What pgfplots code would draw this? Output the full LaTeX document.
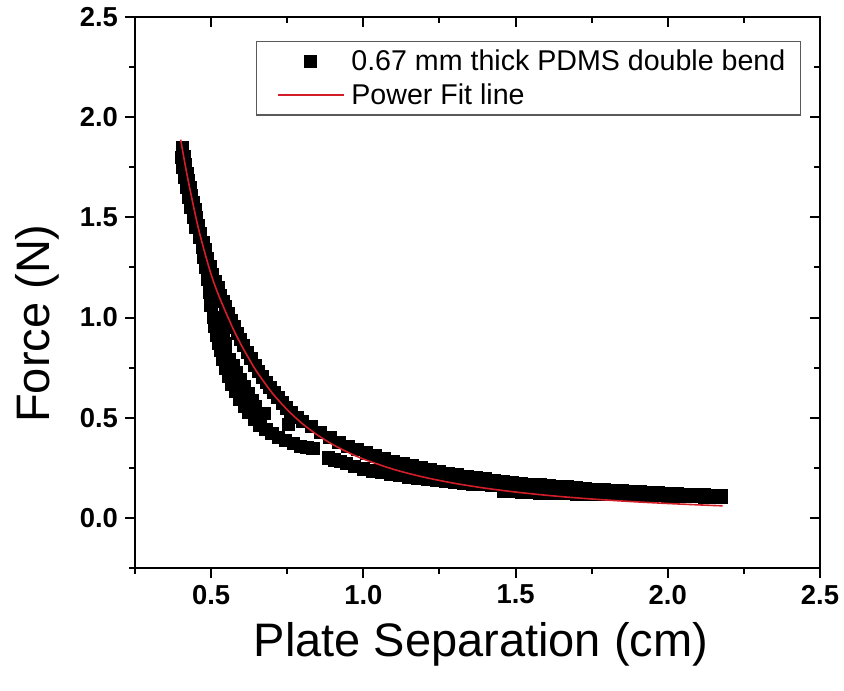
\documentclass[border=0pt]{standalone}
\usepackage{fontspec}
\setmainfont{Liberation Sans}
\usepackage{pgfplots}
\pgfplotsset{compat=1.18}
\usetikzlibrary{calc}
\definecolor{fitred}{RGB}{210,30,40}
\definecolor{legframe}{RGB}{90,90,90}

\pgfplotsset{
  common/.style={
    scale only axis, width=342.5pt, height=275.5pt,
    xmin=0.25, xmax=2.5, ymin=-0.25, ymax=2.5,
    xtick={0.5,1.0,1.5,2.0,2.5}, ytick={0,0.5,1.0,1.5,2.0,2.5},
    minor xtick={0.25,0.75,1.25,1.75,2.25},
    minor ytick={-0.25,0.25,0.75,1.25,1.75,2.25},
    major tick length=5pt, minor tick length=3pt,
    axis line style={line width=1pt},
    tick style={line width=1pt, black},
  },
  markleg/.style={legend image code/.code={\path[draw=none] (0pt,0pt) -- (36pt,0pt); \draw[mark repeat=1,##1] plot coordinates {(19.5pt,0pt)};}},
  lineleg/.style={legend image code/.code={\path[draw=none] (0pt,0pt) -- (36pt,0pt); \draw[##1] (3pt,0pt) -- (36pt,0pt);}},
}

\begin{document}
\begin{tikzpicture}
\begin{axis}[common, name=main, clip marker paths=true,
  xtick pos=left, ytick pos=left, tick align=outside,
  ticklabel style={font=\bfseries\fontsize{13.7}{16}\selectfont},
  /pgf/number format/.cd, fixed, fixed zerofill, precision=1, assume math mode=true,
  /pgfplots/.cd,
  xlabel={Plate Separation (cm)},
  ylabel={Force (N)},
  xlabel style={at={(axis description cs:0.505,-0.1615)}, anchor=base, font=\fontsize{23.5}{28}\selectfont},
  ylabel style={at={(axis description cs:-0.1255,0.4437)}, anchor=base, font=\fontsize{23.5}{28}\selectfont},
  legend cell align=left,
  legend style={at={(axis description cs:0.1766,0.9564)}, anchor=north west,
    draw=legframe, line width=0.6pt, font=\fontsize{14.3}{17}\selectfont,
    inner xsep=7.5pt, inner ysep=4pt, row sep=5pt,
    nodes={inner sep=0pt},
    /tikz/every odd column/.append style={column sep=3.5pt}},
]
\addplot[only marks, mark=square*, mark size=3.1pt,
  mark options={fill=black, draw=black, line width=0pt}, markleg]
coordinates {
(0.406,1.846)(0.411,1.804)(0.416,1.762)(0.421,1.72)(0.426,1.683)(0.431,1.647)(0.436,1.61)
(0.441,1.573)(0.447,1.537)(0.452,1.50)(0.459,1.456)(0.466,1.419)(0.473,1.375)(0.481,1.338)
(0.489,1.295)(0.497,1.252)(0.505,1.215)(0.513,1.181)(0.522,1.147)(0.531,1.11)(0.539,1.081)
(0.547,1.052)(0.556,1.02)(0.566,0.986)(0.576,0.952)(0.586,0.92)(0.596,0.89)(0.606,0.86)
(0.619,0.825)(0.631,0.795)(0.644,0.76)(0.656,0.73)(0.669,0.703)(0.682,0.675)(0.694,0.65)
(0.706,0.625)(0.720,0.60)(0.734,0.574)(0.748,0.549)(0.763,0.526)(0.782,0.50)(0.80,0.48)
(0.83,0.455)(0.86,0.427)(0.89,0.40)(0.92,0.377)
(0.95,0.357)(0.98,0.340)(1.01,0.323)(1.04,0.308)(1.07,0.294)(1.10,0.282)(1.13,0.271)
(1.16,0.261)(1.19,0.2515)(1.22,0.2414)(1.25,0.232)(1.28,0.223)(1.31,0.215)(1.34,0.207)
(1.37,0.200)(1.40,0.1935)(1.43,0.187)(1.46,0.181)(1.49,0.176)(1.52,0.171)(1.55,0.168)
(1.58,0.1645)(1.61,0.1618)(1.64,0.1577)(1.67,0.1538)(1.70,0.150)(1.73,0.1466)(1.76,0.1433)
(1.79,0.1402)(1.82,0.1372)(1.85,0.1343)(1.88,0.1316)(1.91,0.1291)(1.94,0.1266)(1.97,0.1242)
(2.00,0.122)(2.03,0.1199)(2.06,0.1178)(2.09,0.1158)(2.12,0.114)(2.15,0.1122)(2.175,0.1107)
(0.402,1.80)(0.408,1.75)(0.413,1.70)(0.419,1.65)(0.427,1.60)(0.434,1.55)(0.442,1.50)
(0.451,1.45)(0.462,1.40)(0.471,1.35)(0.477,1.30)
(0.482,1.25)(0.488,1.19)(0.494,1.125)(0.500,1.06)(0.507,1.0)(0.512,0.955)(0.518,0.91)
(0.524,0.87)(0.530,0.835)(0.539,0.79)(0.549,0.745)(0.559,0.705)(0.569,0.665)(0.581,0.63)
(0.595,0.59)(0.609,0.555)(0.625,0.525)(0.642,0.493)(0.66,0.4625)(0.68,0.44)(0.70,0.42)
(0.722,0.40)(0.745,0.385)(0.77,0.37)(0.793,0.3575)(0.815,0.35)(0.835,0.345)
(0.532,0.985)(0.539,0.93)(0.545,0.87)
(0.548,0.828)(0.560,0.79)(0.572,0.76)(0.584,0.725)(0.597,0.69)(0.609,0.655)(0.622,0.62)
(0.634,0.587)(0.646,0.553)(0.675,0.52)(0.755,0.465)
(0.885,0.30)(0.905,0.29)(0.925,0.282)(0.945,0.272)(0.97,0.258)(1.00,0.245)
(1.03,0.235)(1.06,0.226)(1.09,0.218)(1.12,0.211)(1.15,0.205)(1.18,0.200)(1.21,0.195)
(1.24,0.190)(1.27,0.185)(1.30,0.180)(1.33,0.175)(1.36,0.170)(1.39,0.166)(1.42,0.162)
(1.46,0.133)(1.49,0.131)(1.52,0.129)(1.55,0.127)(1.58,0.125)(1.61,0.123)(1.64,0.122)
(1.67,0.121)(1.70,0.120)(1.73,0.119)(1.76,0.118)(1.79,0.118)(1.82,0.117)(1.85,0.116)
(1.88,0.115)(1.91,0.114)(1.94,0.112)(1.97,0.111)(2.00,0.110)(2.03,0.109)(2.06,0.107)
(2.09,0.106)(2.12,0.105)(2.15,0.104)(2.175,0.103)
};
\addlegendentry{0.67 mm thick PDMS double bend}
\addplot[fitred, line width=0.8pt, smooth, no marks, lineleg]
coordinates {
(0.40,1.888)(0.42,1.72)(0.45,1.50)(0.47,1.375)(0.50,1.215)(0.525,1.11)(0.55,1.02)
(0.575,0.935)(0.60,0.86)(0.625,0.793)(0.65,0.73)(0.70,0.625)(0.75,0.54)(0.80,0.47)
(0.85,0.413)(0.90,0.366)(0.95,0.327)(1.00,0.294)(1.10,0.242)(1.20,0.203)(1.30,0.1726)
(1.40,0.1485)(1.50,0.1291)(1.60,0.1132)(1.70,0.1001)(1.80,0.0892)(1.90,0.0799)
(2.00,0.0720)(2.10,0.0652)(2.18,0.0604)
};
\addlegendentry{Power Fit line}
\end{axis}
\begin{axis}[common,
  xtick pos=right, ytick pos=right, tick align=inside,
  xticklabels={}, yticklabels={}]
\end{axis}
\pgfresetboundingbox
\useasboundingbox ($(main.south west)+(-67.5pt,-61pt)$) rectangle ($(main.north east)+(12pt,8.5pt)$);
\end{tikzpicture}
\end{document}
